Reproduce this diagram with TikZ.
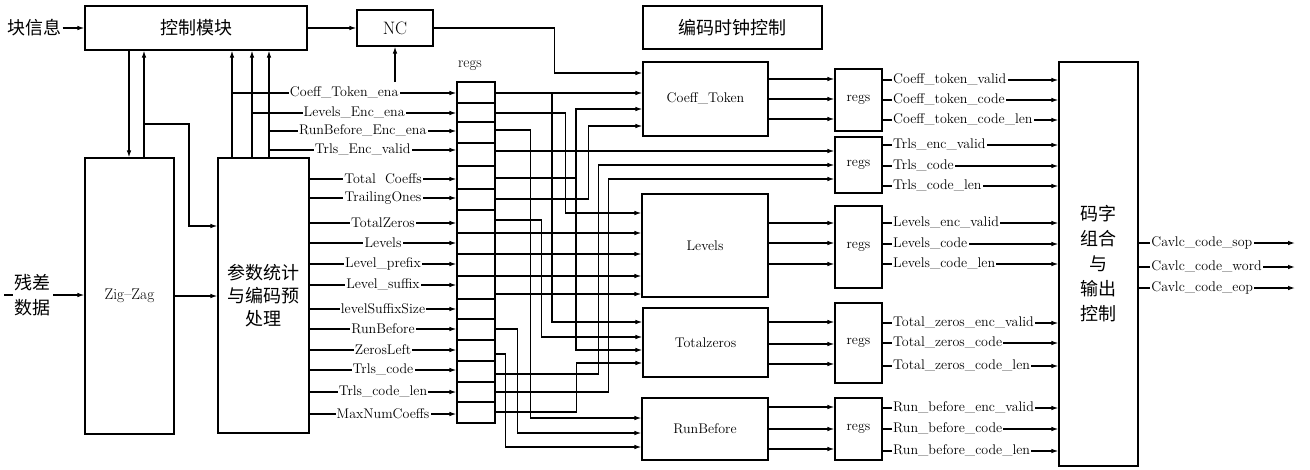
\documentclass[tikz,border=0pt]{standalone}
\usepackage{fontspec}
\newfontfamily\cjk{Noto Sans CJK SC}
\usetikzlibrary{arrows.meta}
\tikzset{
  blk/.style={draw, line width=1.2pt, inner sep=0pt, align=center},
  wire/.style={line width=1.2pt},
  sig/.style={wire, -{Latex[length=7pt,width=4.6pt]}},
  lbl/.style={fill=white, inner sep=1.2pt},
  zh/.style={font=\cjk\fontsize{18}{25}\selectfont},
}

\begin{document}
\begin{tikzpicture}[x=1pt, y=-1pt, font=\fontsize{14}{16}\selectfont]
\useasboundingbox (0,0) rectangle (1310,469);

% blocks
\node[blk, zh, minimum width=222, minimum height=44] (ctrl) at (196,28) {控制模块};
\node[blk, minimum width=76, minimum height=36, font=\fontsize{18}{20}\selectfont] (nc) at (395,28) {NC};
\node[blk, zh, minimum width=179, minimum height=43] (clk) at (732.5,27.5) {编码时钟控制};
\node[blk, minimum width=89, minimum height=276, font=\fontsize{15.5}{17}\selectfont] (zz) at (129.5,296) {Zig--Zag};
\node[blk, minimum width=91, minimum height=275, font=\cjk\fontsize{18}{23}\selectfont] (pre) at (263.5,295.5) {参数统计\\与编码预\\处理};
\node[blk, minimum width=38, minimum height=341] (regsL) at (476,252.5) {};
\node[font=\fontsize{15}{16}\selectfont] (regsT) at (470,66) {regs};
\node[blk, minimum width=125, minimum height=74] (coef) at (705.5,99) {Coeff\_Token};
\node[blk, minimum width=126, minimum height=103] (lev) at (705,245.5) {Levels};
\node[blk, minimum width=125, minimum height=69] (tz) at (705.5,342.5) {Totalzeros};
\node[blk, minimum width=126, minimum height=62] (rb) at (705,429) {RunBefore};
\foreach \n/\c/\h in {rg1/100/62, rg2/165/56, rg3/247/82, rg4/343/80, rg5/429/62}
  \node[blk, minimum width=47, minimum height=\h] (\n) at (858.5,\c) {regs};
\node[blk, zh, minimum width=79, minimum height=404] (out) at (1098.5,264) {码字\\组合\\与\\输出\\控制};

% inputs
\node[zh, inner sep=1pt] (info) at (34.5,28) {块信息};
\node[zh, align=center, inner sep=2pt] (res) at (33,295) {残差\\数据};
\coordinate (resin) at (4,295);
\draw[sig] (info.east) -- (ctrl.west |- info.east);
\draw[wire] (resin) -- (res.west);
\draw[sig] (res.east) -- (zz.west |- res.east);

% control paths
\draw[sig] (ctrl.east) -- (nc.west);
\coordinate (ncin) at (395,82);
\draw[sig] (ncin) -- (nc.south);
\draw[sig] (nc.east) -- ++(121,0) |- (coef.west |- 0,73);
\draw[sig] (ctrl.south -| 129,0) -- (zz.north -| 129,0);
\draw[sig] (zz.north -| 144,0) -- (ctrl.south -| 144,0);
\coordinate (j0) at (144,124);
\draw[sig] (j0) -- ++(45,0) |- (pre.west |- 0,226);
\draw[sig] (zz.east) -- (pre.west |- zz.east);
\foreach \x in {232,252,269}
  \draw[sig] (pre.north -| \x,0) -- (ctrl.south -| \x,0);
\foreach \x/\y/\t in {232/93/Coeff\_Token\_ena, 252/113/Levels\_Enc\_ena,
    269/131/RunBefore\_Enc\_ena, 269/150/Trls\_Enc\_valid}
  \draw[sig] (\x,\y) -- node[lbl]{\t} (regsL.west |- 0,\y);

% parameters into regs
\foreach \y/\t in {179/Total~~Coeffs, 198/TrailingOnes, 223/TotalZeros, 243/Levels,
    264/Level\_prefix, 285/Level\_suffix, 309/levelSuffixSize, 329/RunBefore,
    350/ZerosLeft, 370/Trls\_code, 392/Trls\_code\_len, 414/MaxNumCoeffs}
  \draw[sig] (pre.east |- 0,\y) -- node[lbl]{\t} (regsL.west |- 0,\y);
\foreach \y in {103,122,143,166,189,210,233,254,276,299,319,340,361,382,402}
  \draw[wire] (regsL.west |- 0,\y) -- (regsL.east |- 0,\y);

% regs to encoders
\coordinate (j1) at (552,93);
\coordinate (j5) at (576,178);
\draw[sig] (regsL.east |- 0,93) -- (coef.west |- 0,93);
\draw[sig] (j1) |- (tz.west |- 0,322);
\draw[sig] (regsL.east |- 0,113) -- ++(70,0) |- (lev.west |- 0,213);
\draw[sig] (regsL.east |- 0,130) -- ++(35,0) |- (rb.west |- 0,418);
\draw[sig] (regsL.east |- 0,151) -- (rg2.west |- 0,151);
\draw[wire] (regsL.east |- j5) -- (j5);
\draw[sig] (j5) |- (coef.west |- 0,109);
\draw[sig] (j5) |- (tz.west |- 0,350);
\draw[sig] (regsL.east |- 0,199) -- ++(93,0) |- (coef.west |- 0,126);
\draw[sig] (regsL.east |- 0,220) -- ++(46,0) |- (tz.west |- 0,337);
\foreach \y in {233,254,276,294}
  \draw[sig] (regsL.east |- 0,\y) -- (lev.west |- 0,\y);
\draw[sig] (regsL.east |- 0,329) -- ++(22,0) |- (rb.west |- 0,433);
\draw[sig] (regsL.east |- 0,354) -- ++(10,0) |- (rb.west |- 0,447);
\draw[sig] (regsL.east |- 0,374) -- ++(103,0) |- (rg2.west |- 0,165);
\draw[sig] (regsL.east |- 0,392) -- ++(113,0) |- (rg2.west |- 0,179);
\draw[sig] (regsL.east |- 0,412) -- ++(81,0) |- (tz.west |- 0,363);

% encoders to output regs
\foreach \a/\b/\y in {coef/rg1/79, coef/rg1/99, coef/rg1/119, lev/rg3/223, lev/rg3/243,
    lev/rg3/264, tz/rg4/322, tz/rg4/344, tz/rg4/364, rb/rg5/407, rb/rg5/429, rb/rg5/449}
  \draw[sig] (\a.east |- 0,\y) -- (\b.west |- 0,\y);

% output regs to output control
\foreach \r/\y/\t in {rg1/80/Coeff\_token\_valid, rg1/100/Coeff\_token\_code,
    rg1/120/Coeff\_token\_code\_len, rg2/145/Trls\_enc\_valid, rg2/166/Trls\_code,
    rg2/186/Trls\_code\_len, rg3/223/Levels\_enc\_valid, rg3/244/Levels\_code,
    rg3/264/Levels\_code\_len, rg4/323/Total\_zeros\_enc\_valid, rg4/343/Total\_zeros\_code,
    rg4/366/Total\_zeros\_code\_len, rg5/408/Run\_before\_enc\_valid,
    rg5/429/Run\_before\_code, rg5/451/Run\_before\_code\_len}
  \draw[sig] (\r.east |- 0,\y) -- node[lbl, anchor=west, pos=0.05]{\t} (out.west |- 0,\y);

% final outputs
\coordinate (o1) at (1295,243);
\coordinate (o2) at (1295,267);
\coordinate (o3) at (1295,288);
\draw[sig] (out.east |- o1) -- node[lbl, anchor=west, pos=0.07]{Cavlc\_code\_sop} (o1);
\draw[sig] (out.east |- o2) -- node[lbl, anchor=west, pos=0.07]{Cavlc\_code\_word} (o2);
\draw[sig] (out.east |- o3) -- node[lbl, anchor=west, pos=0.07]{Cavlc\_code\_eop} (o3);
\end{tikzpicture}
\end{document}
